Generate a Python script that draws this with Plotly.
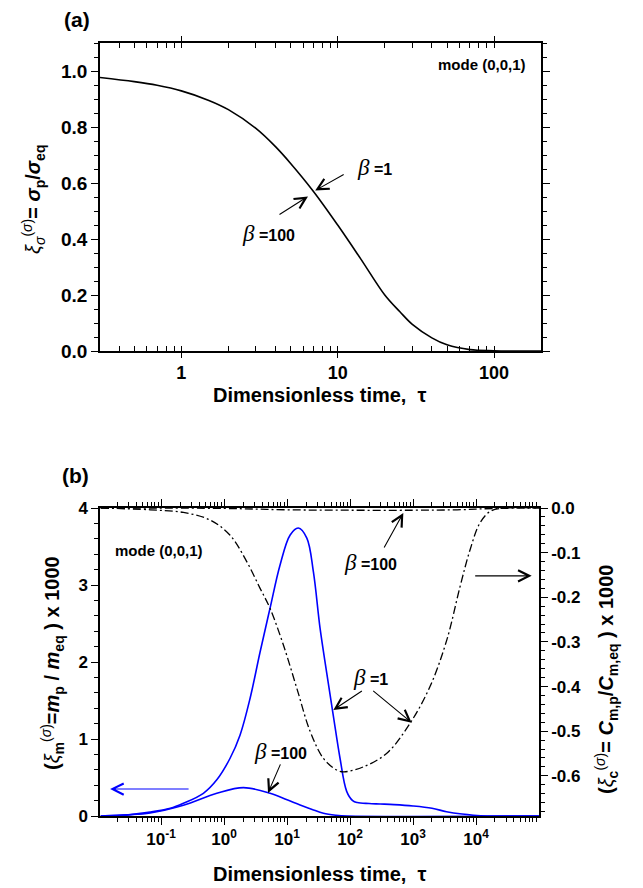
import plotly.graph_objects as go

# ---------------- data ----------------
# panel (a): xi_sigma vs tau (beta = 1 and beta = 100 coincide)
tau_a = [0.3, 0.5, 0.7, 1.0, 1.5, 2.0, 3.0, 4.0, 5.0, 7.0, 10, 14, 20, 25, 30, 40, 50, 70, 100, 200]
xi_sigma = [0.977, 0.962, 0.949, 0.929, 0.895, 0.862, 0.795, 0.73, 0.67, 0.57, 0.45, 0.33, 0.2, 0.14,
            0.095, 0.047, 0.022, 0.005, 0.001, 0.0]

# panel (b): xi_m x 1000 (left axis)
tau_m1 = [0.011, 0.03, 0.067, 0.14, 0.226, 0.469, 0.766, 1.245, 1.79, 2.59, 3.73, 5.37, 7.74, 11.2, 15.1,
          20.6, 26.2, 33.4, 42.6, 54.3, 69.3, 88.4, 110, 130, 200, 300, 500, 1000, 2000, 3400, 6000, 9100,
          15000, 100000]
xi_m_b1 = [0.0, 0.015, 0.05, 0.1, 0.165, 0.295, 0.47, 0.75, 1.05, 1.53, 2.13, 2.70, 3.26, 3.65, 3.74,
           3.61, 3.17, 2.44, 1.86, 1.30, 0.75, 0.32, 0.2, 0.175, 0.162, 0.156, 0.148, 0.13, 0.1, 0.056,
           0.025, 0.01, 0.0, 0.0]
tau_m100 = [0.011, 0.03, 0.067, 0.226, 0.766, 2.03, 5.37, 10, 16.1, 25, 37.8, 60, 90, 100000]
xi_m_b100 = [0.0, 0.015, 0.04, 0.14, 0.295, 0.368, 0.295, 0.21, 0.143, 0.085, 0.035, 0.01, 0.0, 0.0]

# panel (b): xi_c x 1000 (right axis)
tau_c1 = [0.011, 0.067, 0.226, 0.6, 1.245, 2.29, 3.73, 5.37, 8.75, 14.3, 23.2, 37.8, 61.5, 80, 162, 380,
          890, 1860, 3430, 5580, 8030, 11500, 16600, 25000, 100000]
xi_c_b1 = [0.0, -0.004, -0.01, -0.027, -0.061, -0.12, -0.18, -0.225, -0.307, -0.404, -0.50, -0.561,
           -0.587, -0.591, -0.58, -0.55, -0.483, -0.40, -0.296, -0.176, -0.094, -0.034, -0.008, -0.001, 0.0]
tau_c100 = [0.011, 1.0, 10, 100, 1000, 5000, 20000, 100000]
xi_c_b100 = [0.0, -0.001, -0.004, -0.005, -0.005, -0.004, -0.001, 0.0]

top_ticks = [1, 10, 100]
top_ticktext = ["1", "10", "100"]
bot_ticks = [0.1, 1, 10, 100, 1000, 10000]
bot_ticktext = ["10<sup>-1</sup>", "10<sup>0</sup>", "10<sup>1</sup>", "10<sup>2</sup>",
                "10<sup>3</sup>", "10<sup>4</sup>"]
top_minor = [m * 10.0 ** e for e in range(-1, 3) for m in range(1, 10)]
bot_minor = [m * 10.0 ** e for e in range(-2, 5) for m in range(1, 10)]

# ---------------- figure ----------------
FONT = "Liberation Sans"
W, H = 643, 888
BLUE = "#0000ff"
DASHDOT = "8px,3px,2px,3px"

fig = go.Figure()
fig.add_trace(go.Scatter(x=tau_a, y=xi_sigma, mode="lines", line=dict(color="black", width=1.6, shape="spline"),
                         xaxis="x", yaxis="y", showlegend=False))
fig.add_trace(go.Scatter(x=tau_m1, y=xi_m_b1, mode="lines", line=dict(color=BLUE, width=1.6, shape="spline"),
                         xaxis="x2", yaxis="y2", showlegend=False))
fig.add_trace(go.Scatter(x=tau_m100, y=xi_m_b100, mode="lines", line=dict(color=BLUE, width=1.6, shape="spline"),
                         xaxis="x2", yaxis="y2", showlegend=False))
fig.add_trace(go.Scatter(x=tau_c1, y=xi_c_b1, mode="lines",
                         line=dict(color="black", width=1.3, dash=DASHDOT, shape="spline"),
                         xaxis="x2", yaxis="y3", showlegend=False))
fig.add_trace(go.Scatter(x=tau_c100, y=xi_c_b100, mode="lines",
                         line=dict(color="black", width=1.3, dash=DASHDOT, shape="spline"),
                         xaxis="x2", yaxis="y3", showlegend=False))


def px(x):
    return x / W


def py(y):
    return (H - y) / H


axis_common = dict(showline=True, linecolor="black", linewidth=1.5, showgrid=False, zeroline=False,
                   tickcolor="black", tickwidth=1.2, automargin=False)

tickfont_top = dict(family=FONT, size=18, color="black", weight="bold")
tickfont_bot = dict(family=FONT, size=17, color="black", weight="bold")

fig.update_layout(
    width=W, height=H, margin=dict(l=0, r=0, t=0, b=0, pad=0, autoexpand=False),
    paper_bgcolor="white", plot_bgcolor="white",
    font=dict(family=FONT, color="black"),
    xaxis=dict(type="log", range=[-0.52, 2.30], domain=[px(100), px(541)], anchor="y",
               tickmode="array", tickvals=top_ticks, ticktext=top_ticktext,
               ticks="outside", ticklen=5, mirror="ticks", tickfont=tickfont_top,
               minor=dict(tickmode="array", tickvals=top_minor, ticks="inside", ticklen=5,
                          tickcolor="black", tickwidth=1.1, showgrid=False),
               **axis_common),
    yaxis=dict(range=[0, 1.1], domain=[py(351), py(43)], anchor="x",
               tickmode="array", tickvals=[0, 0.2, 0.4, 0.6, 0.8, 1.0],
               ticktext=["0.0", "0.2", "0.4", "0.6", "0.8", "1.0"],
               ticks="outside", ticklen=7, mirror="ticks", tickfont=dict(tickfont_top, size=19),
               minor=dict(ticks="outside", ticklen=4, dtick=0.05, tickcolor="black", showgrid=False),
               **axis_common),
    xaxis2=dict(type="log", range=[-1.97, 5.0], domain=[px(100), px(539)], anchor="y2",
                tickmode="array", tickvals=bot_ticks, ticktext=bot_ticktext,
                ticks="outside", ticklen=7, mirror="ticks", tickfont=tickfont_bot,
                minor=dict(tickmode="array", tickvals=bot_minor, ticks="outside", ticklen=4,
                           tickcolor="black", tickwidth=1.1, showgrid=False),
                **axis_common),
    yaxis2=dict(range=[0, 4], domain=[py(816), py(508)], anchor="x2",
                tickmode="array", tickvals=[0, 1, 2, 3, 4], ticktext=["0", "1", "2", "3", "4"],
                ticks="outside", ticklen=7, tickfont=tickfont_bot,
                minor=dict(ticks="outside", ticklen=4, dtick=0.2, tickcolor="black", showgrid=False),
                **axis_common),
    yaxis3=dict(range=[-0.69, 0], overlaying="y2", side="right", anchor="x2",
                tickmode="array", tickvals=[0, -0.1, -0.2, -0.3, -0.4, -0.5, -0.6],
                ticktext=["0.0", "-0.1", "-0.2", "-0.3", "-0.4", "-0.5", "-0.6"],
                ticks="outside", ticklen=7, tickfont=tickfont_bot,
                minor=dict(ticks="outside", ticklen=4, dtick=0.02, tickcolor="black", showgrid=False),
                **axis_common),
)

BETA = '<span style="font-family:Liberation Serif;font-size:23px"><i>β</i></span>'


def label(text, x, y, size, angle=0, xanchor="center"):
    return dict(text=text, x=px(x), y=py(y), xref="paper", yref="paper", xanchor=xanchor, yanchor="middle",
                textangle=angle, showarrow=False, font=dict(size=size, family=FONT, color="black"))


ann = []
# panel labels
ann.append(label("<b>(a)</b>", 77, 20, 21))
ann.append(label("<b>(b)</b>", 75, 475, 21))
# axis titles
ann.append(label("<b>Dimensionless time,  τ</b>", 320, 395, 20))
ann.append(label("<b>Dimensionless time,  τ</b>", 320, 874, 20))
ann.append(label("<i>ξ</i><sub><i>σ</i></sub><sup>(<i>σ</i>)</sup><b>= <i>σ</i><sub>p</sub>/<i>σ</i><sub>eq</sub></b>",
                 33, 200, 20, -90))
ann.append(label("<b>(</b><i>ξ</i><sub><b>m</b></sub><sup>(<i>σ</i>)</sup><b>=<i>m</i><sub>p</sub> / <i>m</i><sub>eq</sub> ) x 1000</b>",
                 52, 663, 20, -90))
ann.append(label("<b>(</b><i>ξ</i><sub><b>c</b></sub><sup>(<i>σ</i>)</sup><b>= <i>C</i><sub>m,p</sub>/<i>C</i><sub>m,eq</sub> ) x 1000</b>",
                 606, 680, 20, -90))
# mode labels
ann.append(label("<b>mode (0,0,1)</b>", 528, 65, 15, xanchor="right"))
ann.append(label("<b>mode (0,0,1)</b>", 113, 550, 15, xanchor="left"))

# beta texts
for lab, x, y in [("=1", 374, 167), ("=100", 268, 233), ("=100", 280, 751), ("=100", 370, 562), ("=1", 370, 677)]:
    ann.append(label(BETA + " <b>" + lab + "</b>", x, y, 16))


# arrows (tip in axis coordinates, tail offset in pixels)
def arrow(x, y, ax, ay, xref, yref, color="black"):
    return dict(text="", x=x, y=y, xref=xref, yref=yref, ax=ax, ay=ay, showarrow=True,
                arrowhead=5, arrowsize=2.0, arrowwidth=1.1, arrowcolor=color, standoff=0)


ann.append(arrow(0.856, 0.573, 30, -17, "x", "y"))
ann.append(arrow(0.81, 0.552, -30, 19, "x", "y"))
ann.append(arrow(-1.81, 0.35, 80, 0, "x2", "y2", BLUE))
ann.append(arrow(4.884, -0.152, -58, 0, "x2", "y3"))
ann.append(arrow(0.698, 0.30, 13, -30, "x2", "y2"))
ann.append(arrow(2.846, -0.011, -20, 36, "x2", "y3"))
ann.append(arrow(1.735, 1.377, 30, -20, "x2", "y2"))
ann.append(arrow(2.979, -0.481, -40, -33, "x2", "y3"))

fig.update_layout(annotations=ann)
# remove the browser's default body margin so the figure sits at the page origin
fig.write_html("out.html", config={"displayModeBar": False},
               post_script="document.body.style.margin='0px';")
